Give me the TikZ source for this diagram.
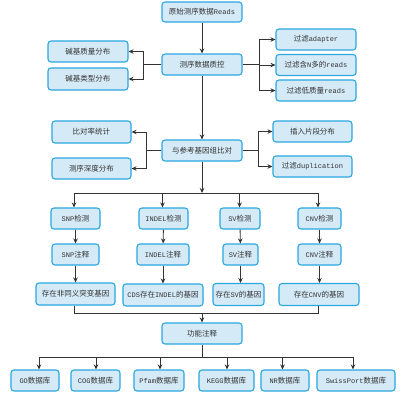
\documentclass[tikz,border=0pt]{standalone}
\usepackage{fontspec}
\newfontfamily\cjk{Noto Sans CJK SC}
\newfontfamily\latmono{Liberation Mono}
\newcommand{\lt}[1]{{\latmono\fontsize{7}{9}\selectfont #1}}
\usetikzlibrary{arrows.meta,calc}
\definecolor{boxfill}{HTML}{D5EAF7}
\definecolor{boxline}{HTML}{2AA7E0}
\definecolor{linec}{HTML}{333333}
\definecolor{txt}{HTML}{333333}
\tikzset{
  bx/.style={draw=boxline,fill=boxfill,line width=1.1pt,rounded corners=3pt,
    inner sep=0pt,align=center,text=txt,font=\cjk\fontsize{7.5}{9}\selectfont},
  conn/.style={draw=linec,line width=0.9pt},
  arr/.style={conn,-{Stealth[length=5pt,width=4.5pt]}}
}
\begin{document}
\begin{tikzpicture}[x=1pt,y=-1pt]
\useasboundingbox (0,0) rectangle (400,400);
\fill[white] (0,0) rectangle (400,400);
% top
\node[bx,minimum width=80pt,minimum height=20pt] (raw) at (202,12) {原始测序数据\lt{Reads}};
\node[bx,minimum width=80pt,minimum height=21pt] (qc) at (202,64.5) {测序数据质控};
\node[bx,minimum width=80pt,minimum height=21pt] (bq) at (88,51.5) {碱基质量分布};
\node[bx,minimum width=80pt,minimum height=22pt] (bt) at (88,79) {碱基类型分布};
\node[bx,minimum width=80pt,minimum height=21pt] (fa) at (316,39.5) {过滤\lt{adapter}};
\node[bx,minimum width=80pt,minimum height=21pt] (fn) at (316,65) {过滤含\lt{N}多的\lt{reads}};
\node[bx,minimum width=80pt,minimum height=21pt] (fl) at (316,90.5) {过滤低质量\lt{reads}};
% alignment
\node[bx,minimum width=80pt,minimum height=21pt] (al) at (202,150.5) {与参考基因组比对};
\node[bx,minimum width=79pt,minimum height=22pt] (ar) at (91.5,132) {比对率统计};
\node[bx,minimum width=79pt,minimum height=21pt] (dp) at (91.5,168.5) {测序深度分布};
\node[bx,minimum width=79pt,minimum height=21pt] (ins) at (312.5,131.5) {插入片段分布};
\node[bx,minimum width=79pt,minimum height=21pt] (dup) at (312.5,166.5) {过滤\lt{duplication}};
% detection
\node[bx,minimum width=49pt,minimum height=21pt] (snpd) at (75.5,218.5) {\lt{SNP}检测};
\node[bx,minimum width=49pt,minimum height=21pt] (indeld) at (163.5,218.5) {\lt{INDEL}检测};
\node[bx,minimum width=40pt,minimum height=21pt] (svd) at (240,218.5) {\lt{SV}检测};
\node[bx,minimum width=43pt,minimum height=21pt] (cnvd) at (319.5,218.5) {\lt{CNV}检测};
% annotation
\node[bx,minimum width=47pt,minimum height=21pt] (snpa) at (75.5,254.5) {\lt{SNP}注释};
\node[bx,minimum width=52pt,minimum height=21pt] (indela) at (163,254.5) {\lt{INDEL}注释};
\node[bx,minimum width=35pt,minimum height=21pt] (sva) at (240.5,254.5) {\lt{SV}注释};
\node[bx,minimum width=43pt,minimum height=21pt] (cnva) at (319.5,254.5) {\lt{CNV}注释};
% genes
\node[bx,minimum width=79pt,minimum height=22pt] (snpg) at (75.5,294) {存在非同义突变基因};
\node[bx,minimum width=80pt,minimum height=22pt] (indelg) at (163,295) {\lt{CDS}存在\lt{INDEL}的基因};
\node[bx,minimum width=51pt,minimum height=22pt] (svg) at (238.5,294.5) {存在\lt{SV}的基因};
\node[bx,minimum width=80pt,minimum height=22pt] (cnvg) at (319,294.5) {存在\lt{CNV}的基因};
% function
\node[bx,minimum width=80pt,minimum height=21pt] (fun) at (202,333.5) {功能注释};
\node[bx,minimum width=48pt,minimum height=21pt] (go) at (35,380.5) {\lt{GO}数据库};
\node[bx,minimum width=49pt,minimum height=21pt] (cog) at (95.5,380.5) {\lt{COG}数据库};
\node[bx,minimum width=50pt,minimum height=21pt] (pfam) at (159,380.5) {\lt{Pfam}数据库};
\node[bx,minimum width=55pt,minimum height=21pt] (kegg) at (226.5,380.5) {\lt{KEGG}数据库};
\node[bx,minimum width=48pt,minimum height=21pt] (nr) at (285,380.5) {\lt{NR}数据库};
\node[bx,minimum width=78pt,minimum height=21pt] (sp) at (356,380.5) {\lt{SwissPort}数据库};
% connectors top
\draw[arr] (raw) -- (qc);
\coordinate (ql) at (143,64.5);
\draw[conn] (qc.west) -- (ql);
\draw[arr] (ql) |- (bq.east);
\draw[arr] (ql) |- (bt.east);
\coordinate (qr) at (259,64.5);
\draw[conn] (qc.east) -- (qr);
\draw[arr] (qr) |- (fa.west);
\draw[arr] (qr) |- (fn.west);
\draw[arr] (qr) |- (fl.west);
\draw[arr] (qc) -- (al);
% alignment connectors
\coordinate (al1) at (146,150.5);
\draw[conn] (al.west) -- (al1);
\draw[arr] (al1) |- (ar.east);
\draw[arr] (al1) |- (dp.east);
\coordinate (ar1) at (258,150.5);
\draw[conn] (al.east) -- (ar1);
\draw[arr] (ar1) |- (ins.west);
\draw[arr] (ar1) |- (dup.west);
% to detection
\coordinate (b1) at (202,193);
\coordinate (b1l) at (74,193);
\coordinate (b1r) at (318,193);
\draw[arr] (al) -- (b1);
\draw[conn] (b1l) -- (b1r);
\draw[arr] (b1l) -- (b1l |- snpd.north);
\draw[arr] (162.5,193) -- (162.5,0 |- indeld.north);
\draw[arr] (239.5,193) -- (239.5,0 |- svd.north);
\draw[arr] (b1r) -- (b1r |- cnvd.north);
% columns
\draw[arr] (snpd) -- (snpa);
\draw[arr] (indeld) -- (indela);
\draw[arr] (svd) -- (sva);
\draw[arr] (cnvd) -- (cnva);
\draw[arr] (snpa) -- (snpa |- snpg.north);
\draw[arr] (indela) -- (indela |- indelg.north);
\draw[arr] (sva) -- (sva |- svg.north);
\draw[arr] (cnva) -- (cnva |- cnvg.north);
% merge
\coordinate (b2l) at (74,313.5);
\coordinate (b2r) at (318,313.5);
\coordinate (b2) at (202,313.5);
\draw[conn] (b2l |- snpg.south) -- (b2l) -- (b2r) -- (b2r |- cnvg.south);
\draw[arr] (b2) -- (fun);
% databases
\coordinate (b3) at (202,357);
\coordinate (b3l) at (39,357);
\coordinate (b3r) at (353,357);
\draw[conn] (fun) -- (b3);
\draw[conn] (b3l) -- (b3r);
\draw[arr] (b3l) -- (b3l |- go.north);
\draw[arr] (96,357) -- (96,0 |- cog.north);
\draw[arr] (160,357) -- (160,0 |- pfam.north);
\draw[arr] (227,357) -- (227,0 |- kegg.north);
\draw[arr] (282.5,357) -- (282.5,0 |- nr.north);
\draw[arr] (b3r) -- (b3r |- sp.north);
\end{tikzpicture}
\end{document}
